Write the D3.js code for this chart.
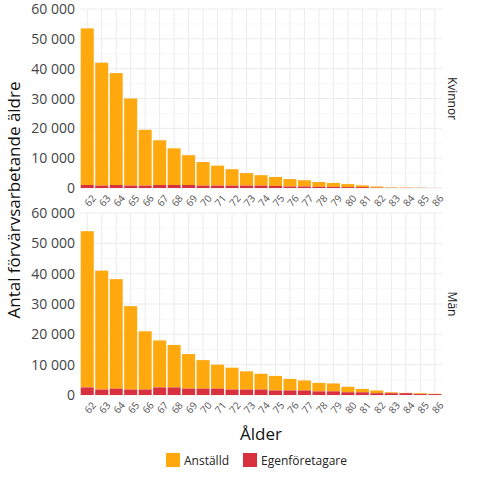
<!DOCTYPE html>
<html><head><meta charset="utf-8">
<script src="https://cdn.jsdelivr.net/npm/d3@7"></script>
<style>body{margin:0;background:#fff;font-family:"Open Sans",sans-serif}</style>
</head><body>
<script>
// ages on the x axis
var ages = d3.range(62, 87).map(String);
// totals (top of stacked bar) and egenföretagare part
var kvinnorTotal = [53500,42000,38500,30000,19500,16000,13300,11000,8700,7500,6300,5000,4300,3700,3000,2600,2000,1700,1300,900,500,200,150,100,30];
var kvinnorEgen = [1000,800,1000,800,800,1000,1000,1000,800,800,800,800,800,700,500,500,400,400,300,300,100,50,40,30,10];
var manTotal = [54000,41000,38200,29300,21000,18000,16500,13500,11500,10000,9000,7800,7000,6300,5300,4800,4000,3800,2700,2000,1500,900,700,600,400];
var manEgen = [2500,1800,2100,1800,1800,2500,2500,2100,2100,2100,1800,1800,1800,1500,1500,1500,1200,1200,900,900,600,600,600,300,300];
var yTicks = [0,10000,20000,30000,40000,50000,60000];
var colors = {"Anställd":"#FFA90F","Egenföretagare":"#D8303F"};

var svg = d3.select("body").append("svg").attr("width",480).attr("height",480);
var fmt = function(v){ return d3.format(",")(v).replace(/,/g," "); };

var x = d3.scaleBand().domain(ages).range([80,442]).paddingInner(0.1).paddingOuter(0.05);

var panels = [
  {name:"Kvinnor", total:kvinnorTotal, egen:kvinnorEgen, top:9, bottom:188},
  {name:"Män", total:manTotal, egen:manEgen, top:213, bottom:395}
];

panels.forEach(function(p){
  var y = d3.scaleLinear().domain([0,60000]).range([p.bottom,p.top]);
  var g = svg.append("g");
  // minor grid
  g.selectAll(".gm").data(d3.range(5000,60000,10000)).enter().append("line")
    .attr("x1",80).attr("x2",442).attr("y1",y).attr("y2",y).attr("stroke","#f2f2f2").attr("stroke-width",0.6);
  g.selectAll(".gx").data(ages).enter().append("line")
    .attr("x1",function(d){return x(d)+x.bandwidth()/2;}).attr("x2",function(d){return x(d)+x.bandwidth()/2;})
    .attr("y1",p.top).attr("y2",p.bottom).attr("stroke","#ebebeb").attr("stroke-width",1);
  g.selectAll(".gy").data(yTicks).enter().append("line")
    .attr("x1",80).attr("x2",442).attr("y1",y).attr("y2",y).attr("stroke","#ebebeb").attr("stroke-width",1);
  // bars
  g.selectAll(".a").data(ages).enter().append("rect")
    .attr("x",function(d){return x(d);}).attr("width",x.bandwidth())
    .attr("y",function(d,i){return y(p.total[i]);})
    .attr("height",function(d,i){return y(p.egen[i]) - y(p.total[i]);})
    .attr("fill",colors["Anställd"]);
  g.selectAll(".e").data(ages).enter().append("rect")
    .attr("x",function(d){return x(d);}).attr("width",x.bandwidth())
    .attr("y",function(d,i){return y(p.egen[i]);})
    .attr("height",function(d,i){return y(0) - y(p.egen[i]);})
    .attr("fill",colors["Egenföretagare"]);
  // y labels
  g.selectAll(".yl").data(yTicks).enter().append("text")
    .attr("x",75).attr("y",function(d){return y(d)+5;}).attr("text-anchor","end")
    .attr("font-size",14).attr("fill","#444").text(fmt);
  // x labels
  g.selectAll(".xl").data(ages).enter().append("text")
    .attr("transform",function(d){return "translate("+(x(d)+x.bandwidth()/2+4)+","+(p.bottom+6)+") rotate(-50)";})
    .attr("text-anchor","end").attr("dy","0.7em").attr("font-size",10).attr("fill","#555").text(function(d){return d;});
  // strip
  svg.append("text").attr("transform","translate("+452+","+((p.top+p.bottom)/2)+") rotate(90)")
    .attr("text-anchor","middle").attr("dy","0.35em").attr("font-size",12).attr("fill","#222").text(p.name);
});

svg.append("text").attr("transform","translate(20,200) rotate(-90)").attr("text-anchor","middle")
  .attr("font-size",17).attr("fill","#111").text("Antal förvärvsarbetande äldre");
svg.append("text").attr("x",261).attr("y",440).attr("text-anchor","middle")
  .attr("font-size",17).attr("fill","#111").text("Ålder");

// legend
var leg = [{k:"Anställd",x:166},{k:"Egenföretagare",x:243}];
leg.forEach(function(l){
  svg.append("rect").attr("x",l.x).attr("y",453).attr("width",14).attr("height",14).attr("fill",colors[l.k]);
  svg.append("text").attr("x",l.x+18).attr("y",465).attr("font-size",12).attr("fill","#222").text(l.k);
});
</script>
</body></html>
